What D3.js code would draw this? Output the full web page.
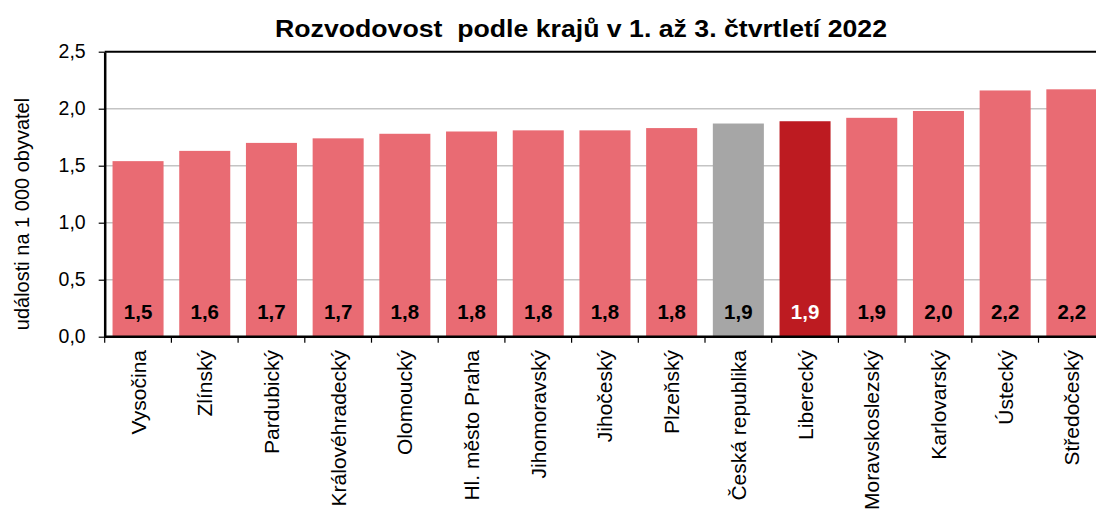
<!DOCTYPE html>
<html>
<head>
<meta charset="utf-8">
<script src="https://cdn.jsdelivr.net/npm/d3@7"></script>
<style>
  body { margin: 0; background: #fff; }
  svg { display: block; font-family: "Liberation Sans", Arial, sans-serif; }
</style>
</head>
<body>
<svg id="chart"></svg>
<script>
let regions = ["Vysočina", "Zlínský", "Pardubický", "Královéhradecký", "Olomoucký",
    "Hl. město Praha", "Jihomoravský", "Jihočeský", "Plzeňský", "Česká republika",
    "Liberecký", "Moravskoslezský", "Karlovarský", "Ústecký", "Středočeský"]
let values = [1.54, 1.63, 1.70, 1.74, 1.78, 1.80, 1.81, 1.81, 1.83, 1.87,
    1.89, 1.92, 1.98, 2.16, 2.17]
let yTicks = [0, 0.5, 1.0, 1.5, 2.0, 2.5]

let colorOf = function (name) {
    if (name === "Česká republika") return "#a6a6a6"
    if (name === "Liberecký") return "#bd1b21"
    return "#e96b73"
}

let W = 1096, H = 509
let margin = { top: 51.7, left: 104.7, bottom: 172.3 },
    plotW = 1000.5,
    plotH = H - margin.top - margin.bottom

let svg = d3.select("#chart").attr("width", W).attr("height", H)

let x = d3.scaleBand().domain(regions).range([0, plotW]).paddingInner(0.235).paddingOuter(0.1175)
let y = d3.scaleLinear().domain([0, 2.5]).range([plotH, 0])
let fmt = d => d.toFixed(1).replace(".", ",")

let g = svg.append("g").attr("transform", "translate(" + margin.left + "," + margin.top + ")")

// gridlines
g.selectAll(".grid")
    .data(yTicks.filter(d => d > 0 && d < 2.5))
    .enter().append("line")
    .attr("x1", 0).attr("x2", plotW)
    .attr("y1", d => y(d)).attr("y2", d => y(d))
    .attr("stroke", "#c4c4c4").attr("stroke-width", 1.5)

// bars
g.selectAll(".bar")
    .data(regions)
    .enter().append("rect")
    .attr("x", d => x(d))
    .attr("width", x.bandwidth())
    .attr("y", (d, i) => y(values[i]))
    .attr("height", (d, i) => plotH - y(values[i]))
    .attr("fill", d => colorOf(d))

// value labels
g.selectAll(".val")
    .data(regions)
    .enter().append("text")
    .attr("x", d => x(d) + x.bandwidth() / 2)
    .attr("y", plotH - 17.4)
    .attr("text-anchor", "middle")
    .style("font-size", "20.5px")
    .style("font-weight", "bold")
    .attr("fill", d => d === "Liberecký" ? "#fff" : "#000")
    .text((d, i) => fmt(values[i]))

// top frame line
g.append("line")
    .attr("x1", 0).attr("x2", plotW).attr("y1", 0).attr("y2", 0)
    .attr("stroke", "#000").attr("stroke-width", 2)

// y axis
let yAxis = d3.axisLeft(y).tickValues(yTicks).tickFormat(fmt).tickSize(6).tickSizeOuter(0)
let ya = g.append("g").call(yAxis)
ya.select(".domain").attr("stroke-width", 2.5)
ya.selectAll(".tick line").attr("stroke-width", 1.2)
ya.selectAll(".tick text")
    .style("font-size", "19.5px")
    .style("font-family", "Liberation Sans, Arial, sans-serif")
    .attr("x", -19)

// x axis with ticks at band boundaries
let xa = g.append("g").attr("transform", "translate(0," + plotH + ")")
xa.append("line").attr("x1", 0).attr("x2", plotW).attr("stroke", "#000").attr("stroke-width", 2.5)
let step = x.step()
xa.selectAll(".xt")
    .data(d3.range(regions.length + 1))
    .enter().append("line")
    .attr("x1", i => i * step).attr("x2", i => i * step)
    .attr("y1", 0).attr("y2", 6)
    .attr("stroke", "#000").attr("stroke-width", 1.2)

xa.selectAll(".xl")
    .data(regions)
    .enter().append("text")
    .attr("transform", d => "translate(" + (x(d) + x.bandwidth() / 2 + 7.5) + ",13.3) rotate(-90)")
    .attr("text-anchor", "end")
    .style("font-size", "21px")
    .text(d => d)

// y axis title
svg.append("text")
    .attr("transform", "translate(29,214) rotate(-90)")
    .attr("text-anchor", "middle")
    .style("font-size", "20px")
    .text("události na 1 000 obyvatel")

// title
svg.append("text")
    .attr("x", 581).attr("y", 37)
    .attr("text-anchor", "middle")
    .attr("textLength", 612)
    .attr("lengthAdjust", "spacingAndGlyphs")
    .style("font-size", "23px")
    .style("font-weight", "bold")
    .style("white-space", "pre")
    .text("Rozvodovost  podle krajů v 1. až 3. čtvrtletí 2022")
</script>
</body>
</html>
